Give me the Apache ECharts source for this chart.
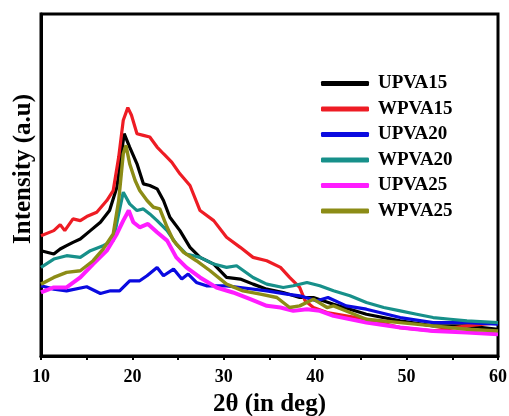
<!DOCTYPE html>
<html>
<head>
<meta charset="utf-8" />
<title>XRD</title>
<script src="https://cdn.jsdelivr.net/npm/echarts@6/dist/echarts.min.js"></script>
<style>
  html, body { margin: 0; padding: 0; background: #fff; }
  #chart { width: 509px; height: 416px; }
</style>
</head>
<body>
<div id="chart"></div>
<script>
// 2θ 和强度（任意单位），从图上读出来的点
const upva15X = [10, 11.4, 12.1, 12.8, 13.5, 14.3, 15.4, 16.5, 17.5, 18.3, 18.8, 19.1, 19.7, 20.5, 21.2, 21.9, 22.7, 23.4, 24.1, 25.2, 26.3, 27.4, 28.9, 30.3, 31.8, 33.2, 34.7, 36.5, 38.3, 39.8, 42.0, 45.6, 49.3, 52.9, 56.6, 60];
const upva15Y = [315, 305, 320, 330, 340, 350, 375, 400, 435, 505, 605, 665, 625, 575, 515, 510, 500, 465, 415, 375, 325, 295, 275, 235, 230, 215, 200, 190, 175, 175, 155, 125, 105, 90, 90, 80];

const wpva15X = [10, 11.4, 12.1, 12.6, 13.5, 14.3, 15.0, 16.1, 17.2, 17.9, 18.5, 19.0, 19.5, 19.9, 20.5, 21.2, 21.9, 22.7, 23.4, 24.3, 25.2, 26.3, 27.4, 28.9, 30.3, 31.8, 33.2, 34.7, 36.2, 37.2, 38.3, 38.9, 39.8, 41.3, 45.6, 49.3, 52.9, 56.6, 60];
const wpva15Y = [360, 375, 393, 375, 410, 405, 417, 430, 465, 495, 595, 705, 743, 720, 665, 660, 655, 625, 605, 580, 545, 510, 435, 405, 355, 325, 295, 285, 265, 235, 205, 165, 145, 130, 110, 85, 75, 90, 100];

const upva20X = [10, 11.4, 12.8, 15.0, 16.5, 17.6, 18.6, 19.7, 20.8, 21.6, 22.7, 23.4, 24.5, 25.4, 26.1, 27.0, 28.1, 30.3, 31.8, 34.7, 36.9, 38.3, 40.2, 41.4, 43.4, 45.6, 49.3, 52.9, 56.6, 60];
const upva20Y = [210, 200, 195, 207, 187, 195, 195, 225, 225, 240, 265, 240, 260, 230, 245, 220, 210, 210, 205, 195, 185, 180, 165, 175, 150, 140, 115, 100, 100, 95];

const wpva20X = [10, 11.4, 12.8, 14.3, 15.4, 16.8, 17.9, 18.5, 19.0, 19.7, 20.5, 21.2, 21.9, 22.7, 23.8, 24.8, 25.9, 27.4, 28.9, 30.3, 31.4, 33.2, 34.7, 36.5, 37.6, 39.1, 40.5, 42.0, 43.8, 45.6, 47.5, 49.3, 51.1, 52.9, 54.8, 56.6, 60];
const wpva20Y = [265, 290, 300, 295, 315, 330, 345, 425, 490, 455, 435, 440, 425, 405, 375, 335, 305, 295, 275, 265, 270, 235, 215, 205, 210, 220, 210, 195, 180, 160, 145, 135, 125, 115, 110, 105, 100];

const upva25X = [10, 11.4, 12.8, 14.3, 15.7, 17.2, 18.3, 19.0, 19.6, 20.1, 20.8, 21.7, 22.7, 23.8, 24.8, 25.9, 27.4, 29.2, 31.0, 32.9, 34.7, 36.2, 37.6, 39.1, 40.5, 42.0, 45.6, 49.3, 52.9, 56.6, 60];
const upva25Y = [190, 205, 205, 235, 275, 315, 365, 405, 435, 400, 385, 395, 370, 345, 295, 265, 235, 205, 190, 170, 150, 145, 135, 140, 135, 120, 100, 85, 75, 70, 65];

const wpva25X = [10, 11.4, 12.8, 14.3, 15.7, 16.8, 17.9, 18.5, 19.0, 19.3, 19.7, 20.3, 20.8, 21.6, 22.3, 23.0, 23.8, 24.5, 25.6, 27.0, 28.5, 30.3, 32.1, 34.0, 35.8, 37.2, 38.3, 39.8, 41.3, 42.0, 43.8, 45.6, 49.3, 52.9, 56.6, 60];
const wpva25Y = [215, 235, 250, 255, 285, 320, 365, 465, 605, 630, 575, 525, 495, 465, 445, 440, 385, 345, 310, 285, 255, 215, 195, 185, 175, 145, 150, 170, 145, 150, 130, 110, 100, 90, 80, 75];

const seriesNames = ["UPVA15", "WPVA15", "UPVA20", "WPVA20", "UPVA25", "WPVA25"];
const seriesColors = ["#000000", "#ee1c24", "#0a0ae0", "#17908a", "#ff1cff", "#8c8c16"];
const lineWidths = [3.2, 3.2, 3.2, 3.2, 4, 3.4];
const xs = [upva15X, wpva15X, upva20X, wpva20X, upva25X, wpva25X];
const ys = [upva15Y, wpva15Y, upva20Y, wpva20Y, upva25Y, wpva25Y];

const serif = "'Liberation Serif', 'DejaVu Serif', serif";

const chart = echarts.init(document.getElementById("chart"));

const series = seriesNames.map((name, i) => ({
  name: name,
  type: "line",
  data: xs[i].map((x, j) => [x, ys[i][j]]),
  showSymbol: false,
  symbol: "none",
  lineStyle: { color: seriesColors[i], width: lineWidths[i] },
  itemStyle: { color: seriesColors[i] },
  z: 2 + i,
}));

const option = {
  backgroundColor: "#ffffff",
  animation: false,
  grid: {
    left: 41,
    right: 11,
    top: 14,
    bottom: 60,
    containLabel: false,
    outerBoundsMode: "none",
    show: true,
    borderColor: "#000",
    borderWidth: 3,
  },
  legend: {
    orient: "vertical",
    left: 316,
    top: 69,
    itemWidth: 48,
    itemHeight: 5,
    itemGap: 6.5,
    icon: "roundRect",
    data: seriesNames,
    textStyle: {
      fontFamily: serif,
      fontWeight: "bold",
      fontSize: 19,
      color: "#000",
      padding: [0, 0, 0, 4],
    },
  },
  xAxis: {
    type: "value",
    min: 10,
    max: 60,
    interval: 10,
    name: "2θ (in deg)",
    nameLocation: "middle",
    nameGap: 36,
    nameTextStyle: {
      fontFamily: serif,
      fontWeight: "bold",
      fontSize: 25,
      color: "#000",
    },
    axisLine: { lineStyle: { color: "#000", width: 3 } },
    axisTick: { show: true, length: 4, lineStyle: { color: "#000", width: 2 } },
    minorTick: { show: true, splitNumber: 2, length: 4, lineStyle: { color: "#000", width: 2 } },
    axisLabel: {
      margin: 12,
      fontFamily: serif,
      fontWeight: "bold",
      fontSize: 18,
      color: "#000",
    },
    splitLine: { show: false },
  },
  yAxis: {
    type: "value",
    min: 0,
    max: 1023,
    axisLine: { show: true, lineStyle: { color: "#000", width: 3 } },
    axisTick: { show: false },
    axisLabel: { show: false },
    splitLine: { show: false },
  },
  graphic: [
    {
      type: "text",
      x: 24,
      y: 169,
      rotation: Math.PI / 2,
      style: {
        text: "Intensity (a.u)",
        fontFamily: serif,
        fontWeight: "bold",
        fontSize: 25,
        fill: "#000",
        textAlign: "center",
        textVerticalAlign: "middle",
      },
    },
  ],
  series: series,
};

chart.setOption(option);
</script>
</body>
</html>
